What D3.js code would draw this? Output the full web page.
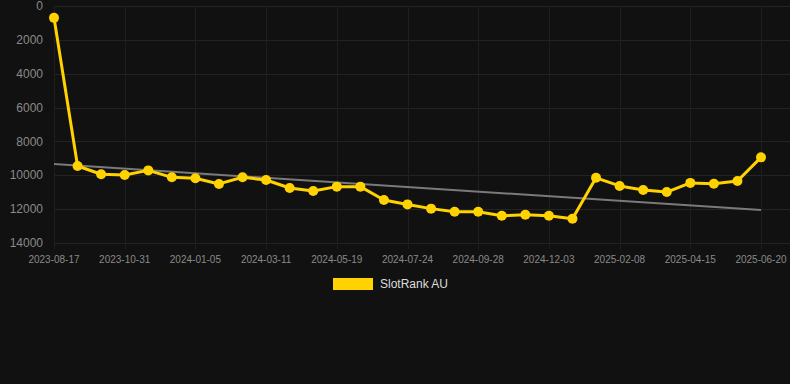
<!DOCTYPE html>
<html>
<head>
<meta charset="utf-8">
<script src="https://cdn.jsdelivr.net/npm/d3@7"></script>
<style>
  html, body { margin: 0; padding: 0; background: #111111; }
  svg { display: block; font-family: 'Liberation Sans', Arial, sans-serif; }
</style>
</head>
<body>
<div id="chart"></div>
<script>
const WIDTH = 790;
const HEIGHT = 384;

// all categories (dates); only every 3rd is labelled on the axis
const dates = [
  '2023-08-17', '2023-09-11', '2023-10-06', '2023-10-31', '2023-11-22', '2023-12-14',
  '2024-01-05', '2024-01-27', '2024-02-18', '2024-03-11', '2024-04-03', '2024-04-26',
  '2024-05-19', '2024-06-10', '2024-07-02', '2024-07-24', '2024-08-15', '2024-09-06',
  '2024-09-28', '2024-10-20', '2024-11-11', '2024-12-03', '2024-12-25', '2025-01-17',
  '2025-02-08', '2025-03-03', '2025-03-25', '2025-04-15', '2025-05-07', '2025-05-29',
  '2025-06-20',
];
const rankValues = [
  700, 9450, 9940, 9980, 9710, 10120, 10180, 10510, 10120, 10280, 10750, 10930,
  10670, 10670, 11460, 11720, 11970, 12150, 12150, 12390, 12330, 12390, 12570, 10150,
  10630, 10870, 10990, 10450, 10500, 10340, 8940,
];
// trend line, start and end values
const trendValues = [9340, 12050];
const yTicks = [0, 2000, 4000, 6000, 8000, 10000, 12000, 14000];
const seriesName = 'SlotRank AU';

const margin = { top: 6, right: 29, bottom: 141, left: 54 };
const innerW = WIDTH - margin.left - margin.right;
const innerH = HEIGHT - margin.top - margin.bottom;

const svg = d3
  .select('#chart')
  .append('svg')
  .attr('width', WIDTH)
  .attr('height', HEIGHT);

const g = svg.append('g').attr('transform', `translate(${margin.left}, ${margin.top})`);

const x = d3.scalePoint().domain(dates).range([0, innerW]);
const y = d3.scaleLinear().domain([0, 14000]).range([0, innerH]);

// horizontal grid
g.append('g')
  .selectAll('line')
  .data(yTicks)
  .join('line')
  .attr('x1', 0)
  .attr('x2', WIDTH - margin.left)
  .attr('y1', (d) => Math.round(y(d)) + 0.5)
  .attr('y2', (d) => Math.round(y(d)) + 0.5)
  .attr('stroke', '#232323')
  .attr('stroke-width', 1);

// vertical grid at labelled dates
const labelled = dates.filter((d, i) => i % 3 === 0);
g.append('g')
  .selectAll('line')
  .data(labelled)
  .join('line')
  .attr('x1', (d) => Math.round(x(d)) + 0.5)
  .attr('x2', (d) => Math.round(x(d)) + 0.5)
  .attr('y1', 0)
  .attr('y2', innerH + 6)
  .attr('stroke', '#1f1f1f')
  .attr('stroke-width', 1);

// y labels
g.append('g')
  .selectAll('text')
  .data(yTicks)
  .join('text')
  .attr('x', -11)
  .attr('y', (d) => y(d))
  .attr('dy', '0.35em')
  .attr('text-anchor', 'end')
  .attr('fill', '#8a8a8a')
  .attr('font-size', 12)
  .text((d) => d);

// x labels
g.append('g')
  .selectAll('text')
  .data(labelled)
  .join('text')
  .attr('x', (d) => x(d))
  .attr('y', innerH + 16)
  .attr('dy', '0.35em')
  .attr('text-anchor', 'middle')
  .attr('fill', '#8a8a8a')
  .attr('font-size', 10)
  .text((d) => d);

// trend line
g.append('line')
  .attr('x1', x(dates[0]))
  .attr('x2', x(dates[dates.length - 1]))
  .attr('y1', y(trendValues[0]))
  .attr('y2', y(trendValues[1]))
  .attr('stroke', '#7a7a7a')
  .attr('stroke-width', 2);

const data = dates.map((d, i) => ({ date: d, value: rankValues[i] }));

g.append('path')
  .datum(data)
  .attr('fill', 'none')
  .attr('stroke', '#FFD200')
  .attr('stroke-width', 3)
  .attr('stroke-linejoin', 'round')
  .attr(
    'd',
    d3
      .line()
      .x((d) => x(d.date))
      .y((d) => y(d.value))
  );

g.append('g')
  .selectAll('circle')
  .data(data)
  .join('circle')
  .attr('cx', (d) => x(d.date))
  .attr('cy', (d) => y(d.value))
  .attr('r', 5)
  .attr('fill', '#FFD200');

// legend
const legend = svg.append('g').attr('transform', 'translate(333, 278)');
legend.append('rect').attr('width', 40).attr('height', 12).attr('fill', '#FFD200');
legend
  .append('text')
  .attr('x', 47)
  .attr('y', 6)
  .attr('dy', '0.35em')
  .attr('fill', '#dddddd')
  .attr('font-size', 12)
  .text(seriesName);
</script>
</body>
</html>
